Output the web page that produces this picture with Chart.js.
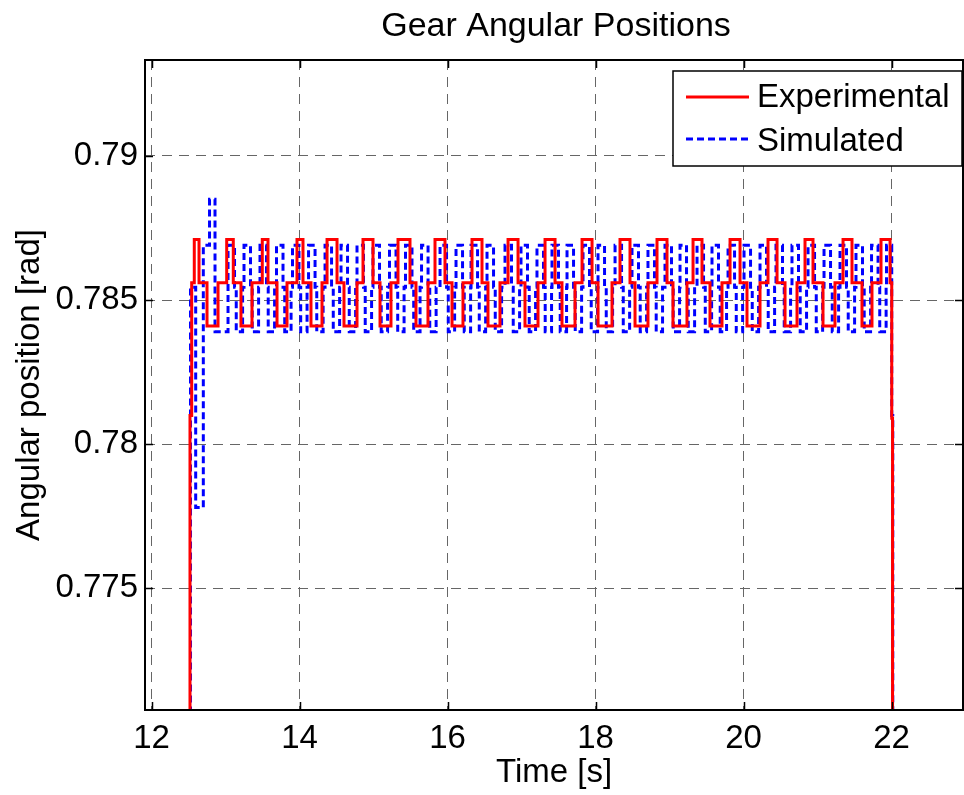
<!DOCTYPE html>
<html>
<head>
<meta charset="utf-8">
<title>Gear Angular Positions</title>
<script src="https://cdn.jsdelivr.net/npm/chart.js@4.4.1/dist/chart.umd.min.js"></script>
<style>
  html, body { margin: 0; padding: 0; background: #fff; }
  #chart { display: block; }
</style>
</head>
<body>
<canvas id="chart" width="964" height="795"></canvas>
<script>
// axis ticks
const xTicks = [12, 14, 16, 18, 20, 22];
const yTicks = [0.775, 0.78, 0.785, 0.79];

// Experimental: time of each step and the level held from there on
const redTime = [
  12.500, 12.520, 12.543,
  12.578, 12.642, 12.750, 12.899,
  13.016, 13.105, 13.209, 13.358,
  13.497, 13.574, 13.696, 13.831,
  13.966, 14.047, 14.155, 14.304,
  14.372, 14.507, 14.601, 14.777,
  14.858, 14.993, 15.088, 15.236,
  15.331, 15.493, 15.574, 15.736,
  15.831, 15.966, 16.061, 16.209,
  16.331, 16.466, 16.547, 16.709,
  16.818, 16.953, 17.047, 17.223,
  17.318, 17.453, 17.547, 17.723,
  17.818, 17.953, 18.034, 18.223,
  18.331, 18.466, 18.534, 18.709,
  18.831, 18.966, 19.047, 19.236,
  19.318, 19.439, 19.547, 19.709,
  19.818, 19.953, 20.047, 20.223,
  20.331, 20.453, 20.561, 20.723,
  20.831, 20.939, 21.074, 21.236,
  21.345, 21.466, 21.601, 21.736,
  21.858, 21.980, 22.003, 22.014
];
const redLevel = [
  0.7650, 0.7810, 0.7856,
  0.7871, 0.7856, 0.7841, 0.7856,
  0.7871, 0.7856, 0.7841, 0.7856,
  0.7871, 0.7856, 0.7841, 0.7856,
  0.7871, 0.7856, 0.7841, 0.7856,
  0.7871, 0.7856, 0.7841, 0.7856,
  0.7871, 0.7856, 0.7841, 0.7856,
  0.7871, 0.7856, 0.7841, 0.7856,
  0.7871, 0.7856, 0.7841, 0.7856,
  0.7871, 0.7856, 0.7841, 0.7856,
  0.7871, 0.7856, 0.7841, 0.7856,
  0.7871, 0.7856, 0.7841, 0.7856,
  0.7871, 0.7856, 0.7841, 0.7856,
  0.7871, 0.7856, 0.7841, 0.7856,
  0.7871, 0.7856, 0.7841, 0.7856,
  0.7871, 0.7856, 0.7841, 0.7856,
  0.7871, 0.7856, 0.7841, 0.7856,
  0.7871, 0.7856, 0.7841, 0.7856,
  0.7871, 0.7856, 0.7841, 0.7856,
  0.7871, 0.7856, 0.7841, 0.7856,
  0.7871, 0.7856, 0.7809, 0.7650
];

// Simulated
const blueTime = [
  12.500, 12.527, 12.597, 12.700, 12.784, 12.858,
  13.034, 13.122, 13.145, 13.231,
  13.250, 13.338, 13.361, 13.447,
  13.466, 13.554, 13.577, 13.663,
  13.689, 13.777, 13.800, 13.886,
  13.905, 13.993, 14.016, 14.102,
  14.122, 14.210, 14.233, 14.319,
  14.345, 14.433, 14.456, 14.542,
  14.561, 14.649, 14.672, 14.758,
  14.777, 14.865, 14.888, 14.974,
  14.993, 15.081, 15.104, 15.190,
  15.216, 15.304, 15.327, 15.413,
  15.432, 15.520, 15.543, 15.629,
  15.649, 15.737, 15.760, 15.846,
  15.899, 15.987, 16.010, 16.096,
  16.115, 16.203, 16.226, 16.312,
  16.318, 16.406, 16.429, 16.515,
  16.534, 16.622, 16.645, 16.731,
  16.777, 16.865, 16.888, 16.974,
  16.993, 17.081, 17.104, 17.190,
  17.209, 17.297, 17.320, 17.406,
  17.412, 17.500, 17.523, 17.609,
  17.615, 17.703, 17.726, 17.812,
  17.831, 17.919, 17.942, 18.028,
  18.034, 18.122, 18.145, 18.231,
  18.264, 18.352, 18.375, 18.461,
  18.493, 18.581, 18.604, 18.690,
  18.709, 18.797, 18.820, 18.906,
  18.939, 19.027, 19.050, 19.136,
  19.142, 19.230, 19.253, 19.339,
  19.372, 19.460, 19.483, 19.569,
  19.574, 19.662, 19.685, 19.771,
  19.791, 19.879, 19.902, 19.988,
  20.007, 20.095, 20.118, 20.204,
  20.223, 20.311, 20.334, 20.420,
  20.439, 20.527, 20.550, 20.636,
  20.655, 20.743, 20.766, 20.852,
  20.872, 20.960, 20.983, 21.069,
  21.088, 21.176, 21.199, 21.285,
  21.304, 21.392, 21.415, 21.501,
  21.520, 21.608, 21.631, 21.717,
  21.730, 21.818, 21.841, 21.927,
  21.932, 22.003, 22.017
];
const blueLevel = [
  0.7650, 0.78545, 0.7778, 0.7869, 0.7885, 0.7839,
  0.7869, 0.78545, 0.7839, 0.78545,
  0.7869, 0.78545, 0.7839, 0.78545,
  0.7869, 0.78545, 0.7839, 0.78545,
  0.7869, 0.78545, 0.7839, 0.78545,
  0.7869, 0.78545, 0.7839, 0.78545,
  0.7869, 0.78545, 0.7839, 0.78545,
  0.7869, 0.78545, 0.7839, 0.78545,
  0.7869, 0.78545, 0.7839, 0.78545,
  0.7869, 0.78545, 0.7839, 0.78545,
  0.7869, 0.78545, 0.7839, 0.78545,
  0.7869, 0.78545, 0.7839, 0.78545,
  0.7869, 0.78545, 0.7839, 0.78545,
  0.7869, 0.78545, 0.7839, 0.78545,
  0.7869, 0.78545, 0.7839, 0.78545,
  0.7869, 0.78545, 0.7839, 0.78545,
  0.7869, 0.78545, 0.7839, 0.78545,
  0.7869, 0.78545, 0.7839, 0.78545,
  0.7869, 0.78545, 0.7839, 0.78545,
  0.7869, 0.78545, 0.7839, 0.78545,
  0.7869, 0.78545, 0.7839, 0.78545,
  0.7869, 0.78545, 0.7839, 0.78545,
  0.7869, 0.78545, 0.7839, 0.78545,
  0.7869, 0.78545, 0.7839, 0.78545,
  0.7869, 0.78545, 0.7839, 0.78545,
  0.7869, 0.78545, 0.7839, 0.78545,
  0.7869, 0.78545, 0.7839, 0.78545,
  0.7869, 0.78545, 0.7839, 0.78545,
  0.7869, 0.78545, 0.7839, 0.78545,
  0.7869, 0.78545, 0.7839, 0.78545,
  0.7869, 0.78545, 0.7839, 0.78545,
  0.7869, 0.78545, 0.7839, 0.78545,
  0.7869, 0.78545, 0.7839, 0.78545,
  0.7869, 0.78545, 0.7839, 0.78545,
  0.7869, 0.78545, 0.7839, 0.78545,
  0.7869, 0.78545, 0.7839, 0.78545,
  0.7869, 0.78545, 0.7839, 0.78545,
  0.7869, 0.78545, 0.7839, 0.78545,
  0.7869, 0.78545, 0.7839, 0.78545,
  0.7869, 0.78545, 0.7839, 0.78545,
  0.7869, 0.78545, 0.7839, 0.78545,
  0.7869, 0.78545, 0.7839, 0.78545,
  0.7869, 0.7810, 0.7650
];

const FONT = '"Liberation Sans", Arial, Helvetica, sans-serif';
Chart.defaults.font.family = FONT;
Chart.defaults.font.size = 33;
Chart.defaults.color = '#000';

const toPoints = (ts, vs) => ts.map((t, i) => ({ x: t, y: vs[i] }));

// title over the axes, box around the axes, inward ticks, legend top-right
const framePlugin = {
  id: 'frame',
  afterDatasetsDraw(chart) {
    const { ctx, chartArea: a, scales: { x, y } } = chart;
    ctx.save();
    ctx.fillStyle = '#000';
    ctx.font = '34px ' + FONT;
    ctx.textAlign = 'center';
    ctx.textBaseline = 'alphabetic';
    ctx.fillText('Gear Angular Positions', (a.left + a.right) / 2 + 2, 36);

    ctx.strokeStyle = '#000';
    ctx.lineWidth = 1.5;
    ctx.beginPath();
    xTicks.forEach(v => {
      const px = Math.round(x.getPixelForValue(v)) + 0.5;
      ctx.moveTo(px, a.bottom); ctx.lineTo(px, a.bottom - 8);
      ctx.moveTo(px, a.top); ctx.lineTo(px, a.top + 8);
    });
    yTicks.forEach(v => {
      const py = Math.round(y.getPixelForValue(v)) + 0.5;
      ctx.moveTo(a.left, py); ctx.lineTo(a.left + 8, py);
      ctx.moveTo(a.right, py); ctx.lineTo(a.right - 8, py);
    });
    ctx.stroke();
    ctx.lineWidth = 2;
    ctx.strokeRect(a.left, a.top, a.right - a.left, a.bottom - a.top);

    // legend
    const bx = 673, by = 71, bw = 289, bh = 95;
    ctx.fillStyle = '#fff';
    ctx.fillRect(bx, by, bw, bh);
    ctx.lineWidth = 1.5;
    ctx.strokeStyle = '#000';
    ctx.strokeRect(bx, by, bw, bh);
    const rows = [97, 141];
    chart.data.datasets.forEach((ds, i) => {
      const ly = rows[i];
      ctx.strokeStyle = ds.borderColor;
      ctx.lineWidth = ds.borderWidth;
      ctx.setLineDash(ds.borderDash || []);
      ctx.beginPath();
      ctx.moveTo(686, ly - (i ? 2 : 0));
      ctx.lineTo(749, ly - (i ? 2 : 0));
      ctx.stroke();
      ctx.setLineDash([]);
      ctx.fillStyle = '#000';
      ctx.font = '33px ' + FONT;
      ctx.textBaseline = 'middle';
      ctx.textAlign = 'left';
      ctx.fillText(ds.label, 757, ly + 1);
    });
    ctx.restore();
  }
};

new Chart(document.getElementById('chart'), {
  type: 'line',
  data: {
    datasets: [
      {
        label: 'Experimental',
        data: toPoints(redTime, redLevel),
        borderColor: '#ff0000',
        borderWidth: 3,
        stepped: true,
        pointRadius: 0,
        fill: false,
        clip: 0
      },
      {
        label: 'Simulated',
        data: toPoints(blueTime, blueLevel),
        borderColor: '#0000ff',
        borderWidth: 3,
        borderDash: [7, 4],
        stepped: true,
        pointRadius: 0,
        fill: false,
        clip: 0
      }
    ]
  },
  options: {
    responsive: false,
    animation: false,
    events: [],
    layout: { padding: { top: 60, right: 1, bottom: 0, left: 0 } },
    plugins: {
      legend: { display: false },
      tooltip: { enabled: false },
      title: { display: false }
    },
    scales: {
      x: {
        type: 'linear',
        min: 11.912,
        max: 22.966,
        afterBuildTicks: s => { s.ticks = xTicks.map(v => ({ value: v })); },
        afterFit: s => { s.height = 85; },
        ticks: { padding: 9, callback: v => String(v), maxRotation: 0 },
        grid: { color: '#666', lineWidth: 1, drawTicks: false },
        border: { display: false, dash: [10, 7] },
        title: { display: true, text: 'Time [s]', padding: { top: 0, bottom: 2 } }
      },
      y: {
        type: 'linear',
        min: 0.770777,
        max: 0.793331,
        afterBuildTicks: s => { s.ticks = yTicks.map(v => ({ value: v })); },
        afterFit: s => { s.width = 145; },
        ticks: { padding: 7, callback: v => String(v) },
        grid: { color: '#666', lineWidth: 1, drawTicks: false },
        border: { display: false, dash: [10, 7] },
        title: { display: true, text: 'Angular position [rad]', padding: { top: 10, bottom: 0 } }
      }
    }
  },
  plugins: [framePlugin]
});
</script>
</body>
</html>
